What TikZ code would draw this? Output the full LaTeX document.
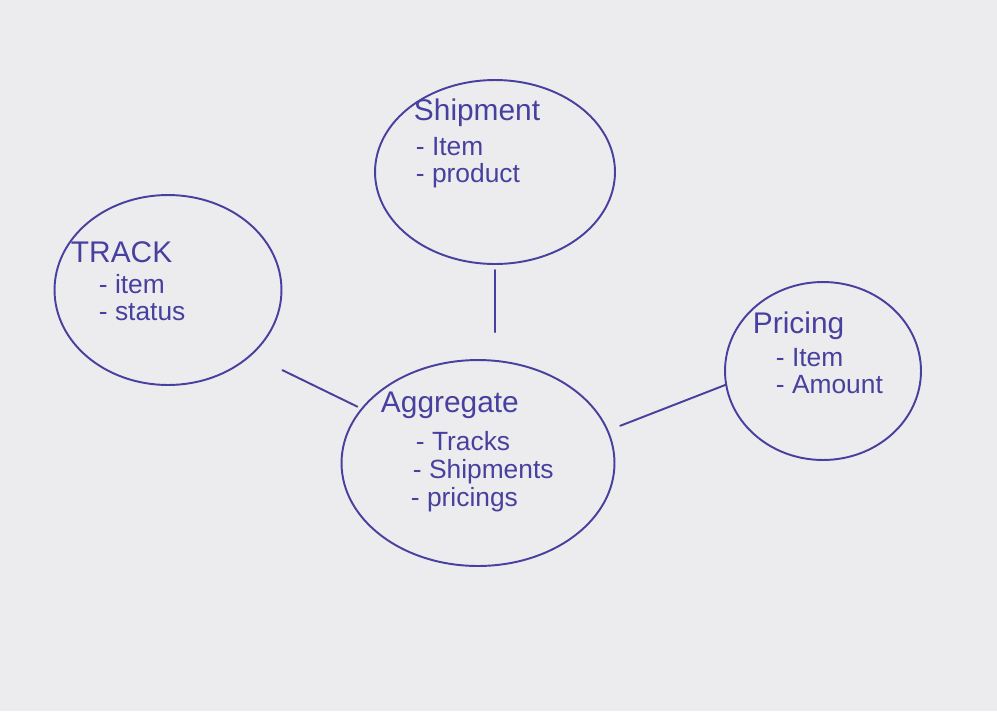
\documentclass[tikz,border=0pt]{standalone}
\usepackage{fontspec}
\setmainfont{Liberation Sans}
\usetikzlibrary{shapes.geometric}

\definecolor{ink}{RGB}{72,64,158}
\definecolor{paper}{RGB}{236,236,238}

\tikzset{
  bubble/.style={draw=ink, ellipse, inner sep=0pt, outer sep=0pt},
  head/.style={text=ink, anchor=base west, inner sep=0pt, font=\fontsize{17}{19}\selectfont},
  entry/.style={text=ink, anchor=base west, inner sep=0pt, font=\fontsize{15}{17}\selectfont},
  link/.style={draw=ink}
}

\begin{document}
\begin{tikzpicture}[x=0.02cm, y=-0.02cm, line width=1.1pt, line cap=round, line join=round]
    % Foglio
    \fill[paper] (0,0) rectangle (997,711);

    % Shipment
    \node[bubble, minimum width=4.8cm, minimum height=3.68cm] (ship) at (495,172) {};
    \node[head] (shiphead) at (413,120) {Shipment};
    \node[entry] (shipitem) at (415,155) {- Item};
    \node[entry] (shipprod) at (415,182) {- product};

    % Track
    \node[bubble, minimum width=4.54cm, minimum height=3.8cm] (track) at (168,290) {};
    \node[head] (trackhead) at (70,262) {TRACK};
    \node[entry] (trackitem) at (98,293) {- item};
    \node[entry] (trackstat) at (98,320) {- status};

    % Pricing
    \node[bubble, minimum width=3.92cm, minimum height=3.56cm] (pri) at (823,371) {};
    \node[head] (prihead) at (752,333) {Pricing};
    \node[entry] (priitem) at (775,366) {- Item};
    \node[entry] (priamount) at (775,393) {- Amount};

    % Aggregate
    \node[bubble, minimum width=5.46cm, minimum height=4.12cm] (agg) at (478,463) {};
    \node[head] (agghead) at (380,412) {Aggregate};
    \node[entry] (aggtracks) at (415,450) {- Tracks};
    \node[entry] (aggships) at (412,478) {- Shipments};
    \node[entry] (aggpris) at (410,506) {- pricings};

    % Collegamenti
    \draw[link, shorten <=0.12cm, shorten >=0.56cm] (ship.south) -- (ship.south |- agg.north);
    \draw[link, shorten <=0.7cm, shorten >=0.1cm] (track.-38) -- (agg.155);
    \draw[link, shorten <=0.27cm] (agg.14) -- (pri.188);
\end{tikzpicture}
\end{document}
